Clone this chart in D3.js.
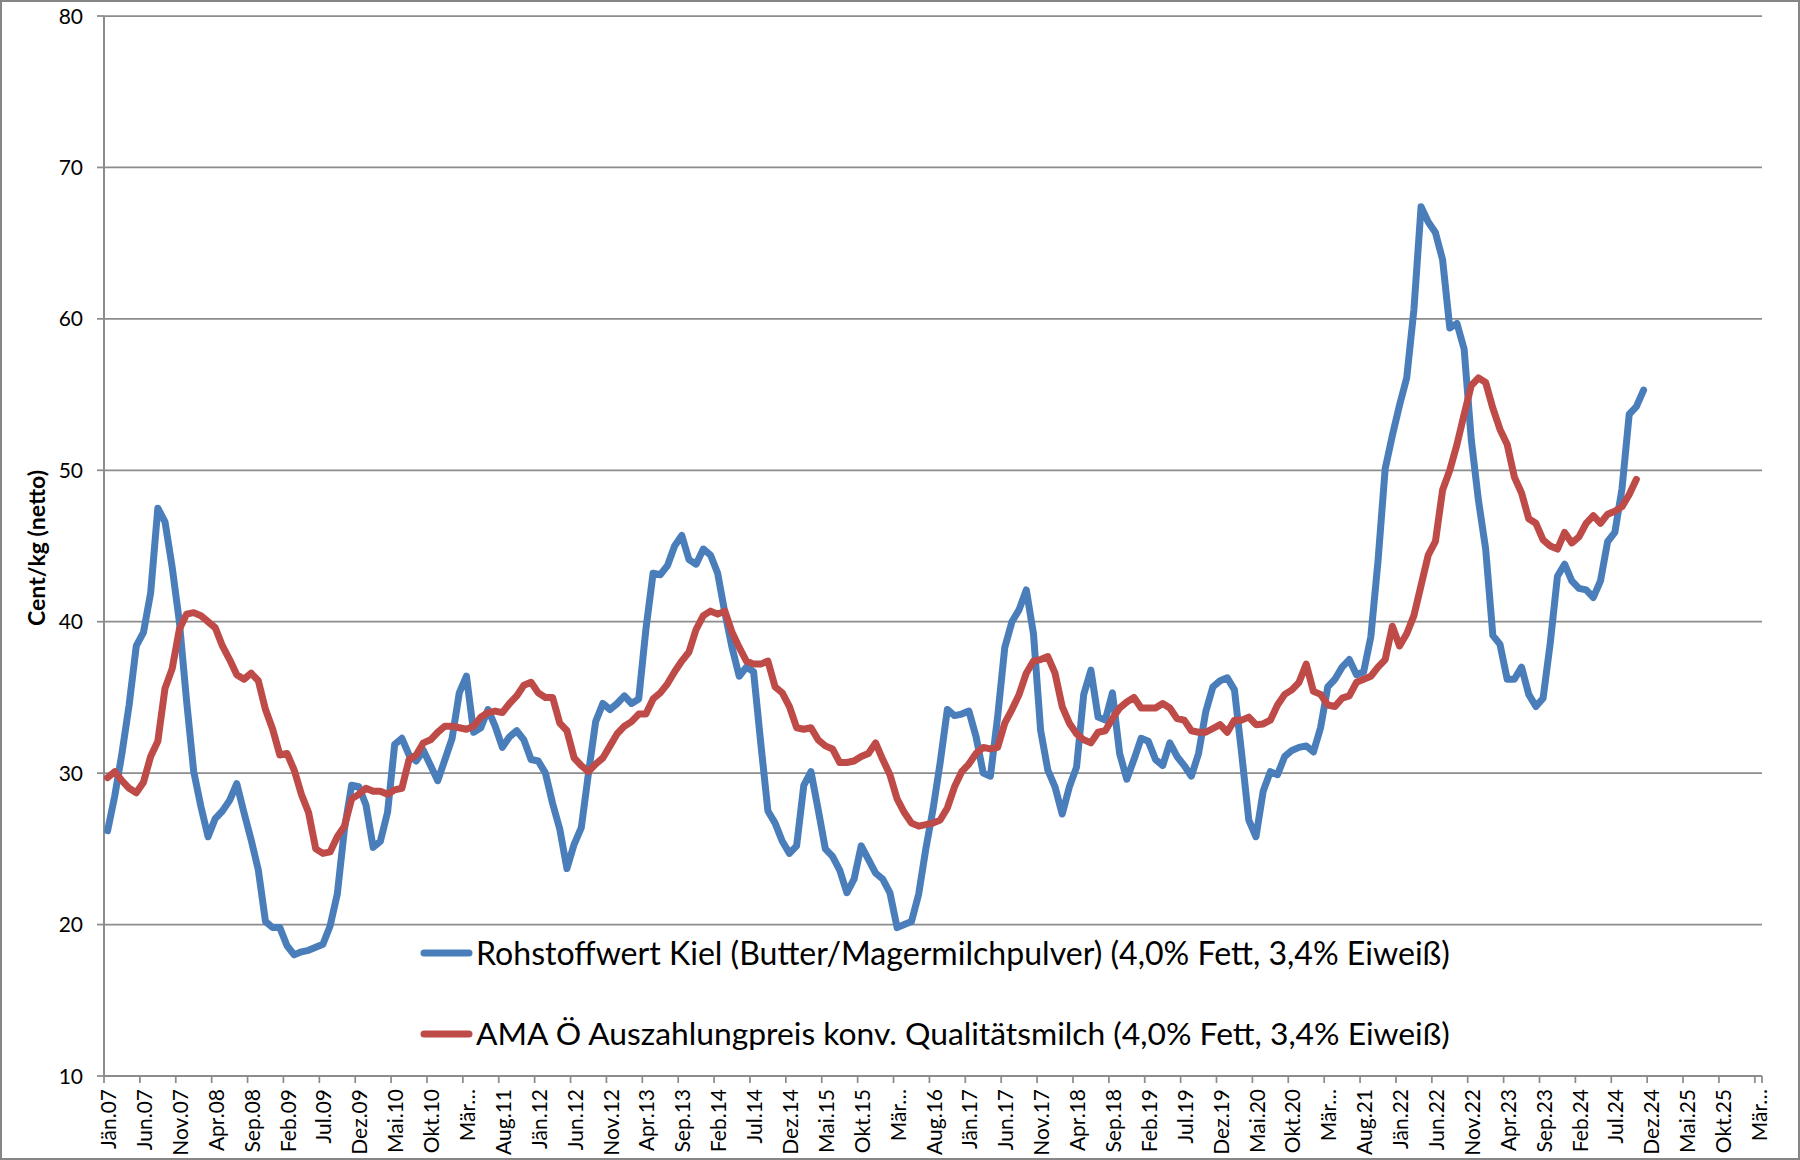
<!DOCTYPE html>
<html>
<head>
<meta charset="utf-8">
<script src="https://cdn.jsdelivr.net/npm/d3@7"></script>
<style>
  html, body { margin: 0; padding: 0; background: #fff; }
  svg { display: block; }
  text { font-family: Lato, "Open Sans", "Liberation Sans", sans-serif; fill: #000; }
</style>
</head>
<body>
<svg id="chart" width="1800" height="1160"></svg>
<script>
// ---------------- DATA ----------------
const monthNames = ["Jän","Feb","Mär","Apr","Mai","Jun","Jul","Aug","Sep","Okt","Nov","Dez"];
const yearsShort = ["07","08","09","10","11","12","13","14","15","16","17","18","19","20","21","22","23","24","25","26"];
// categories: Jän.07 ... Mär.26 (monthly)
const categories = [];
yearsShort.forEach(y => monthNames.forEach(m => { if (categories.length < 231) categories.push(m + "." + y); }));

const tickLabels = ["Jän.07","Jun.07","Nov.07","Apr.08","Sep.08","Feb.09","Jul.09","Dez.09","Mai.10","Okt.10","Mär…",
  "Aug.11","Jän.12","Jun.12","Nov.12","Apr.13","Sep.13","Feb.14","Jul.14","Dez.14","Mai.15","Okt.15","Mär…",
  "Aug.16","Jän.17","Jun.17","Nov.17","Apr.18","Sep.18","Feb.19","Jul.19","Dez.19","Mai.20","Okt.20","Mär…",
  "Aug.21","Jän.22","Jun.22","Nov.22","Apr.23","Sep.23","Feb.24","Jul.24","Dez.24","Mai.25","Okt.25","Mär…"];

const yTicks = [10, 20, 30, 40, 50, 60, 70, 80];

const seriesNames = [
  "Rohstoffwert Kiel (Butter/Magermilchpulver) (4,0% Fett, 3,4% Eiweiß)",
  "AMA Ö Auszahlungpreis konv. Qualitätsmilch (4,0% Fett, 3,4% Eiweiß)"
];

// Rohstoffwert Kiel, ct/kg, from Jän.07
const rohstoffwert = [
  26.2,28.5,31.3,34.5,38.4,39.3,41.9,47.5,46.6,43.6,40.0,34.8,
  30.1,27.8,25.8,27.0,27.5,28.2,29.3,27.4,25.6,23.6,20.2,19.8,
  19.8,18.6,18.0,18.2,18.3,18.5,18.7,19.9,22.0,26.3,29.2,29.1,
  27.9,25.1,25.5,27.4,31.9,32.3,31.2,30.8,31.5,30.5,29.5,30.9,
  32.3,35.3,36.4,32.7,33.0,34.2,33.1,31.7,32.4,32.8,32.2,30.9,
  30.8,30.0,28.0,26.3,23.7,25.3,26.4,30.0,33.4,34.6,34.2,34.6,
  35.1,34.6,34.9,39.5,43.2,43.1,43.7,45.0,45.7,44.1,43.8,44.8,
  44.4,43.2,40.6,38.3,36.4,37.0,36.7,32.0,27.5,26.7,25.5,24.7,
  25.2,29.2,30.1,27.6,25.0,24.5,23.6,22.1,23.0,25.2,24.3,23.4,
  23.0,22.1,19.8,20.0,20.2,22.0,25.0,27.6,30.7,34.2,33.8,33.9,
  34.1,32.4,30.0,29.8,33.7,38.3,40.0,40.8,42.1,39.2,32.8,30.2,
  29.1,27.3,29.1,30.4,35.2,36.8,33.7,33.5,35.3,31.3,29.6,30.9,
  32.3,32.1,30.9,30.5,32.0,31.1,30.5,29.8,31.3,34.05,35.7,36.1,
  36.3,35.5,31.3,26.9,25.8,28.8,30.1,29.9,31.1,31.5,31.7,31.8,
  31.4,33.0,35.7,36.2,37.0,37.5,36.5,36.7,39.0,44.0,50.1,52.3,
  54.3,56.1,60.6,67.4,66.4,65.7,63.9,59.4,59.7,58.0,52.0,48.0,
  44.8,39.1,38.5,36.2,36.2,37.0,35.2,34.4,34.95,38.6,43.0,43.8,
  42.7,42.2,42.1,41.6,42.7,45.3,45.9,48.8,53.7,54.2,55.3
];

// AMA Ö Auszahlungspreis, ct/kg, from Jän.07
const amaPreis = [
  29.7,30.1,29.5,29.0,28.7,29.4,31.1,32.1,35.6,36.9,39.5,40.5,
  40.6,40.4,40.0,39.6,38.4,37.5,36.5,36.2,36.6,36.1,34.2,32.9,
  31.2,31.3,30.2,28.6,27.4,25.0,24.7,24.8,25.8,26.5,28.3,28.6,
  29.0,28.8,28.8,28.6,28.9,29.0,30.9,31.2,32.0,32.2,32.7,33.1,
  33.1,33.0,32.9,33.1,33.7,34.0,34.1,34.0,34.6,35.1,35.8,36.0,
  35.3,35.0,35.0,33.3,32.8,31.0,30.5,30.1,30.6,31.0,31.8,32.6,
  33.1,33.4,33.9,33.9,34.9,35.3,35.9,36.7,37.4,38.0,39.5,40.4,
  40.7,40.5,40.7,39.3,38.3,37.4,37.2,37.2,37.4,35.7,35.3,34.4,
  33.0,32.9,33.0,32.2,31.8,31.6,30.7,30.7,30.8,31.1,31.3,32.0,
  30.9,29.9,28.3,27.4,26.7,26.5,26.6,26.7,26.9,27.7,29.1,30.1,
  30.6,31.3,31.7,31.6,31.7,33.3,34.2,35.2,36.6,37.4,37.5,37.7,
  36.6,34.4,33.3,32.6,32.2,32.0,32.7,32.8,33.6,34.3,34.7,35.0,
  34.3,34.3,34.3,34.6,34.3,33.6,33.5,32.8,32.7,32.7,32.95,33.2,
  32.7,33.5,33.5,33.7,33.2,33.25,33.5,34.5,35.2,35.5,36.0,37.2,
  35.4,35.2,34.5,34.4,34.95,35.1,36.0,36.2,36.4,37.0,37.5,39.7,
  38.4,39.2,40.4,42.4,44.4,45.3,48.7,50.0,51.7,53.7,55.6,56.1,
  55.8,54.1,52.7,51.7,49.55,48.5,46.8,46.5,45.4,45.0,44.8,45.9,
  45.2,45.6,46.5,47.0,46.5,47.1,47.3,47.6,48.4,49.4
];

const seriesColors = ["#4a7ebb", "#be4b48"];

// ---------------- CHART ----------------
const svg = d3.select("#chart");
const W = 1800, H = 1160;
const plot = { left: 104, right: 1762, top: 16, bottom: 1076 };
const gridColor = "#8c8c8c";

// outer border
svg.append("rect").attr("x", 1).attr("y", 1).attr("width", W - 2).attr("height", H - 2)
  .attr("fill", "#fff").attr("stroke", "#868686").attr("stroke-width", 2);

const x = d3.scaleBand().domain(categories).range([plot.left, plot.right]).paddingInner(0).paddingOuter(0);
const xc = c => x(c) + x.bandwidth() / 2;
const y = d3.scaleLinear().domain([10, 80]).range([plot.bottom, plot.top]);

// horizontal gridlines
svg.append("g").selectAll("line").data(yTicks.filter(t => t > 10)).join("line")
  .attr("x1", plot.left).attr("x2", plot.right)
  .attr("y1", d => y(d)).attr("y2", d => y(d))
  .attr("stroke", gridColor).attr("stroke-width", 1.75);

// y axis
const yAxis = svg.append("g");
yAxis.append("line").attr("x1", plot.left).attr("x2", plot.left).attr("y1", plot.top).attr("y2", plot.bottom)
  .attr("stroke", gridColor).attr("stroke-width", 2);
yAxis.selectAll("line.tk").data(yTicks).join("line").attr("class", "tk")
  .attr("x1", plot.left - 7).attr("x2", plot.left).attr("y1", d => y(d)).attr("y2", d => y(d))
  .attr("stroke", gridColor).attr("stroke-width", 1.75);
yAxis.selectAll("text").data(yTicks).join("text")
  .attr("x", 83).attr("y", d => y(d)).attr("dy", "0.36em")
  .attr("text-anchor", "end").style("font-size", "21px").text(d => d);

// y axis title
svg.append("text").attr("class", "ytitle")
  .attr("transform", "translate(37,548) rotate(-90)")
  .attr("text-anchor", "middle").attr("dy", "0.35em")
  .style("font-size", "19px").style("font-weight", "bold")
  .text("Cent/kg (netto)");

// x axis
const xAxis = svg.append("g");
xAxis.append("line").attr("x1", plot.left).attr("x2", plot.right).attr("y1", plot.bottom).attr("y2", plot.bottom)
  .attr("stroke", gridColor).attr("stroke-width", 2);
const tickCats = categories.filter((c, i) => i % 5 === 0);
xAxis.selectAll("line.tk").data(tickCats).join("line").attr("class", "tk")
  .attr("x1", d => x(d)).attr("x2", d => x(d)).attr("y1", plot.bottom).attr("y2", plot.bottom + 7)
  .attr("stroke", gridColor).attr("stroke-width", 1.75);
// closing tick at right end
xAxis.append("line").attr("x1", plot.right).attr("x2", plot.right).attr("y1", plot.bottom).attr("y2", plot.bottom + 7)
  .attr("stroke", gridColor).attr("stroke-width", 1.75);
xAxis.selectAll("text").data(tickCats).join("text")
  .attr("transform", d => `translate(${xc(d) + 1},${plot.bottom + 13}) rotate(-90)`)
  .attr("text-anchor", "end").attr("dy", "0.36em")
  .style("font-size", "21px")
  .text((d, i) => tickLabels[i]);

// lines
const line = d3.line().x(d => xc(d.c)).y(d => y(d.v)).curve(d3.curveLinear);
[rohstoffwert, amaPreis].forEach((arr, k) => {
  const pts = arr.map((v, i) => ({ c: categories[i], v }));
  svg.append("path").datum(pts)
    .attr("d", line)
    .attr("fill", "none")
    .attr("stroke", seriesColors[k])
    .attr("stroke-width", 7)
    .attr("stroke-linejoin", "round")
    .attr("stroke-linecap", "round");
});

// legend
const legendY = [953, 1034];
const leg = svg.append("g");
seriesNames.forEach((name, k) => {
  leg.append("line").attr("x1", 424).attr("x2", 469).attr("y1", legendY[k]).attr("y2", legendY[k])
    .attr("stroke", seriesColors[k]).attr("stroke-width", 7).attr("stroke-linecap", "round");
  leg.append("text").attr("class", "legtext").attr("x", 476).attr("y", legendY[k]).attr("dy", "0.36em")
    .style("font-size", "28px").text(name);
});

// fit text widths to the reference
function fitWidth(sel, target) {
  sel.each(function () {
    const fs = parseFloat(this.style.fontSize);
    const w = this.getComputedTextLength();
    if (w > 0) this.style.fontSize = (fs * target / w).toFixed(2) + "px";
  });
}
fitWidth(svg.selectAll("text.legtext").filter((d, i) => i === 0), 974);
fitWidth(svg.selectAll("text.legtext").filter((d, i) => i === 1), 974);
fitWidth(svg.select("text.ytitle"), 156);
</script>
</body>
</html>
